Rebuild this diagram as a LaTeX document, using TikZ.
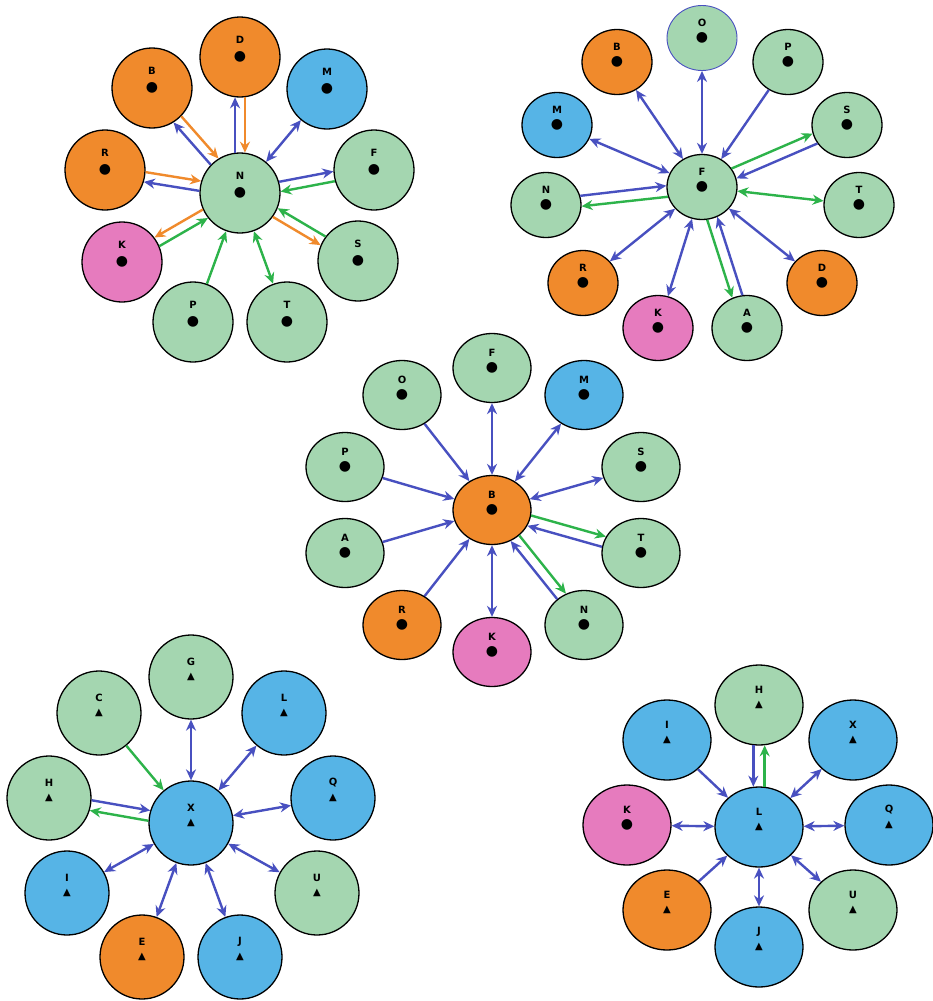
\documentclass[tikz,border=0pt]{standalone}
\usepackage{fontspec}
\setsansfont{DejaVu Sans}
\newfontfamily\symfont{DejaVu Sans}
\usetikzlibrary{arrows.meta, shapes.geometric, calc}

\definecolor{vorange}{HTML}{F08A2C}
\definecolor{vblue}{HTML}{56B4E6}
\definecolor{vgreen}{HTML}{A4D6B0}
\definecolor{vpink}{HTML}{E67BBE}
\definecolor{eblue}{HTML}{4850C0}
\definecolor{eorange}{HTML}{F08A2C}
\definecolor{egreen}{HTML}{2DB34A}

\newcommand{\mdot}{{\symfont\fontsize{14}{14}\selectfont ●}}
\newcommand{\mtri}{{\symfont\fontsize{10}{10}\selectfont ▲}}

% two opposite arrows side by side: #3 from #1 to #2, #4 back, #5 = angle offset
\newcommand{\pair}[5]{%
  \draw[arr, #3] let \p1=($(#2)-(#1)$), \n1={atan2(\y1,\x1)+(#5)}, \n2={atan2(\y1,\x1)+180-(#5)} in (#1.\n1) -- (#2.\n2);
  \draw[arr, #4] let \p1=($(#2)-(#1)$), \n1={atan2(\y1,\x1)-(#5)}, \n2={atan2(\y1,\x1)+180+(#5)} in (#2.\n2) -- (#1.\n1);
}

\tikzset{
  vtx/.style={ellipse, draw=black, line width=1.3pt, inner sep=0pt},
  org/.style={vtx, fill=vorange},
  sky/.style={vtx, fill=vblue},
  mint/.style={vtx, fill=vgreen},
  rose/.style={vtx, fill=vpink},
  tag/.style={font=\sffamily\bfseries\fontsize{10}{10}\selectfont, inner sep=0pt, yshift=15pt},
  arr/.style={line width=2.4pt, -{Stealth[length=11pt,width=10pt]}},
  twohead/.style={line width=2.4pt, {Stealth[length=11pt,width=10pt]}-{Stealth[length=11pt,width=10pt]}},
}

\begin{document}
\begin{tikzpicture}[x=1pt, y=-1pt]
\fill[white] (0,0) rectangle (933,1001);
\useasboundingbox (0,0) rectangle (933,1001);

% Star around N (top left)
\begin{scope}[vtx/.append style={minimum width=80pt, minimum height=80pt}, tag/.append style={yshift=2pt}]
\node[mint, label={[tag]center:N}] (aN) at (240,193) {\mdot};
\node[org, label={[tag]center:D}] (aD) at (240,57) {\mdot};
\node[org, label={[tag]center:B}] (aB) at (152,88) {\mdot};
\node[sky, label={[tag]center:M}] (aM) at (327,89) {\mdot};
\node[org, label={[tag]center:R}] (aR) at (105,170) {\mdot};
\node[mint, label={[tag]center:F}] (aF) at (374,170) {\mdot};
\node[rose, label={[tag]center:K}] (aK) at (122,262) {\mdot};
\node[mint, label={[tag]center:S}] (aS) at (358,261) {\mdot};
\node[mint, label={[tag]center:P}] (aP) at (193,322) {\mdot};
\node[mint, label={[tag]center:T}] (aT) at (287,322) {\mdot};
\pair{aN}{aB}{eblue}{eorange}{7}
\pair{aN}{aD}{eblue}{eorange}{7}
\draw[twohead, eblue] (aN) -- (aM);
\pair{aN}{aR}{eblue}{eorange}{7}
\pair{aN}{aF}{eblue}{egreen}{7}
\pair{aN}{aK}{eorange}{egreen}{-7}
\pair{aN}{aS}{eorange}{egreen}{-7}
\draw[arr, egreen] (aP) -- (aN);
\draw[twohead, egreen] (aN) -- (aT);
\end{scope}

% Star around F (top right)
\begin{scope}[vtx/.append style={minimum width=70pt, minimum height=65pt}]
\node[mint, label={[tag]center:F}] (bF) at (702,187) {\mdot};
\node[mint, draw=eblue, line width=0.9pt, label={[tag]center:O}] (bO) at (702,38) {\mdot};
\node[org, label={[tag]center:B}] (bB) at (617,62) {\mdot};
\node[mint, label={[tag]center:P}] (bP) at (788,62) {\mdot};
\node[sky, label={[tag]center:M}] (bM) at (557,125) {\mdot};
\node[mint, label={[tag]center:S}] (bS) at (847,125) {\mdot};
\node[mint, label={[tag]center:N}] (bN) at (546,205) {\mdot};
\node[mint, label={[tag]center:T}] (bT) at (859,205) {\mdot};
\node[org, label={[tag]center:R}] (bR) at (583,283) {\mdot};
\node[org, label={[tag]center:D}] (bD) at (822,283) {\mdot};
\node[rose, label={[tag]center:K}] (bK) at (658,328) {\mdot};
\node[mint, label={[tag]center:A}] (bA) at (747,328) {\mdot};
\draw[twohead, eblue] (bF) -- (bO);
\draw[twohead, eblue] (bF) -- (bB);
\draw[arr, eblue] (bP) -- (bF);
\draw[twohead, eblue] (bF) -- (bM);
\pair{bF}{bS}{egreen}{eblue}{9}
\draw[twohead, egreen] (bF) -- (bT);
\pair{bF}{bN}{egreen}{eblue}{9}
\draw[twohead, eblue] (bF) -- (bR);
\draw[twohead, eblue] (bF) -- (bD);
\draw[twohead, eblue] (bF) -- (bK);
\pair{bF}{bA}{egreen}{eblue}{-9}
\end{scope}

% Star around B (middle)
\begin{scope}[vtx/.append style={minimum width=78pt, minimum height=69pt}]
\node[org, label={[tag]center:B}] (cB) at (492,510) {\mdot};
\node[mint, label={[tag]center:F}] (cF) at (492,368) {\mdot};
\node[mint, label={[tag]center:O}] (cO) at (402,395) {\mdot};
\node[sky, label={[tag]center:M}] (cM) at (584,395) {\mdot};
\node[mint, label={[tag]center:P}] (cP) at (345,467) {\mdot};
\node[mint, label={[tag]center:S}] (cS) at (641,467) {\mdot};
\node[mint, label={[tag]center:A}] (cA) at (345,553) {\mdot};
\node[mint, label={[tag]center:T}] (cT) at (641,553) {\mdot};
\node[org, label={[tag]center:R}] (cR) at (402,625) {\mdot};
\node[mint, label={[tag]center:N}] (cN) at (584,625) {\mdot};
\node[rose, label={[tag]center:K}] (cK) at (492,652) {\mdot};
\draw[arr, eblue] (cO) -- (cB);
\draw[twohead, eblue] (cB) -- (cF);
\draw[twohead, eblue] (cB) -- (cM);
\draw[arr, eblue] (cP) -- (cB);
\draw[twohead, eblue] (cB) -- (cS);
\draw[arr, eblue] (cA) -- (cB);
\pair{cB}{cT}{egreen}{eblue}{8}
\draw[arr, eblue] (cR) -- (cB);
\draw[twohead, eblue] (cB) -- (cK);
\pair{cB}{cN}{egreen}{eblue}{8}
\end{scope}

% Star around X (bottom left)
\begin{scope}[vtx/.append style={minimum width=84pt, minimum height=84pt}]
\node[sky, label={[tag]center:X}] (dX) at (191,823) {\mtri};
\node[mint, label={[tag]center:G}] (dG) at (191,677) {\mtri};
\node[mint, label={[tag]center:C}] (dC) at (99,713) {\mtri};
\node[sky, label={[tag]center:L}] (dL) at (284,713) {\mtri};
\node[mint, label={[tag]center:H}] (dH) at (49,798) {\mtri};
\node[sky, label={[tag]center:Q}] (dQ) at (333,798) {\mtri};
\node[sky, label={[tag]center:I}] (dI) at (67,893) {\mtri};
\node[mint, label={[tag]center:U}] (dU) at (317,893) {\mtri};
\node[org, label={[tag]center:E}] (dE) at (142,957) {\mtri};
\node[sky, label={[tag]center:J}] (dJ) at (240,957) {\mtri};
\draw[twohead, eblue] (dX) -- (dG);
\draw[arr, egreen] (dC) -- (dX);
\draw[twohead, eblue] (dX) -- (dL);
\pair{dX}{dH}{egreen}{eblue}{7}
\draw[twohead, eblue] (dX) -- (dQ);
\draw[twohead, eblue] (dX) -- (dI);
\draw[twohead, eblue] (dX) -- (dU);
\draw[twohead, eblue] (dX) -- (dE);
\draw[twohead, eblue] (dX) -- (dJ);
\end{scope}

% Star around L (bottom right)
\begin{scope}[vtx/.append style={minimum width=88pt, minimum height=80pt}]
\node[sky, label={[tag]center:L}] (eL) at (759,827) {\mtri};
\node[mint, label={[tag]center:H}] (eH) at (759,705) {\mtri};
\node[sky, label={[tag]center:I}] (eI) at (667,740) {\mtri};
\node[sky, label={[tag]center:X}] (eX) at (853,740) {\mtri};
\node[rose, label={[tag]center:K}] (eK) at (627,825) {\mdot};
\node[sky, label={[tag]center:Q}] (eQ) at (889,825) {\mtri};
\node[org, label={[tag]center:E}] (eE) at (667,910) {\mtri};
\node[mint, label={[tag]center:U}] (eU) at (853,910) {\mtri};
\node[sky, label={[tag]center:J}] (eJ) at (759,947) {\mtri};
\pair{eL}{eH}{egreen}{eblue}{-8}
\draw[arr, eblue] (eI) -- (eL);
\draw[twohead, eblue] (eL) -- (eX);
\draw[twohead, eblue] (eL) -- (eK);
\draw[twohead, eblue] (eL) -- (eQ);
\draw[arr, eblue] (eE) -- (eL);
\draw[twohead, eblue] (eL) -- (eU);
\draw[twohead, eblue] (eL) -- (eJ);
\end{scope}
\end{tikzpicture}
\end{document}
